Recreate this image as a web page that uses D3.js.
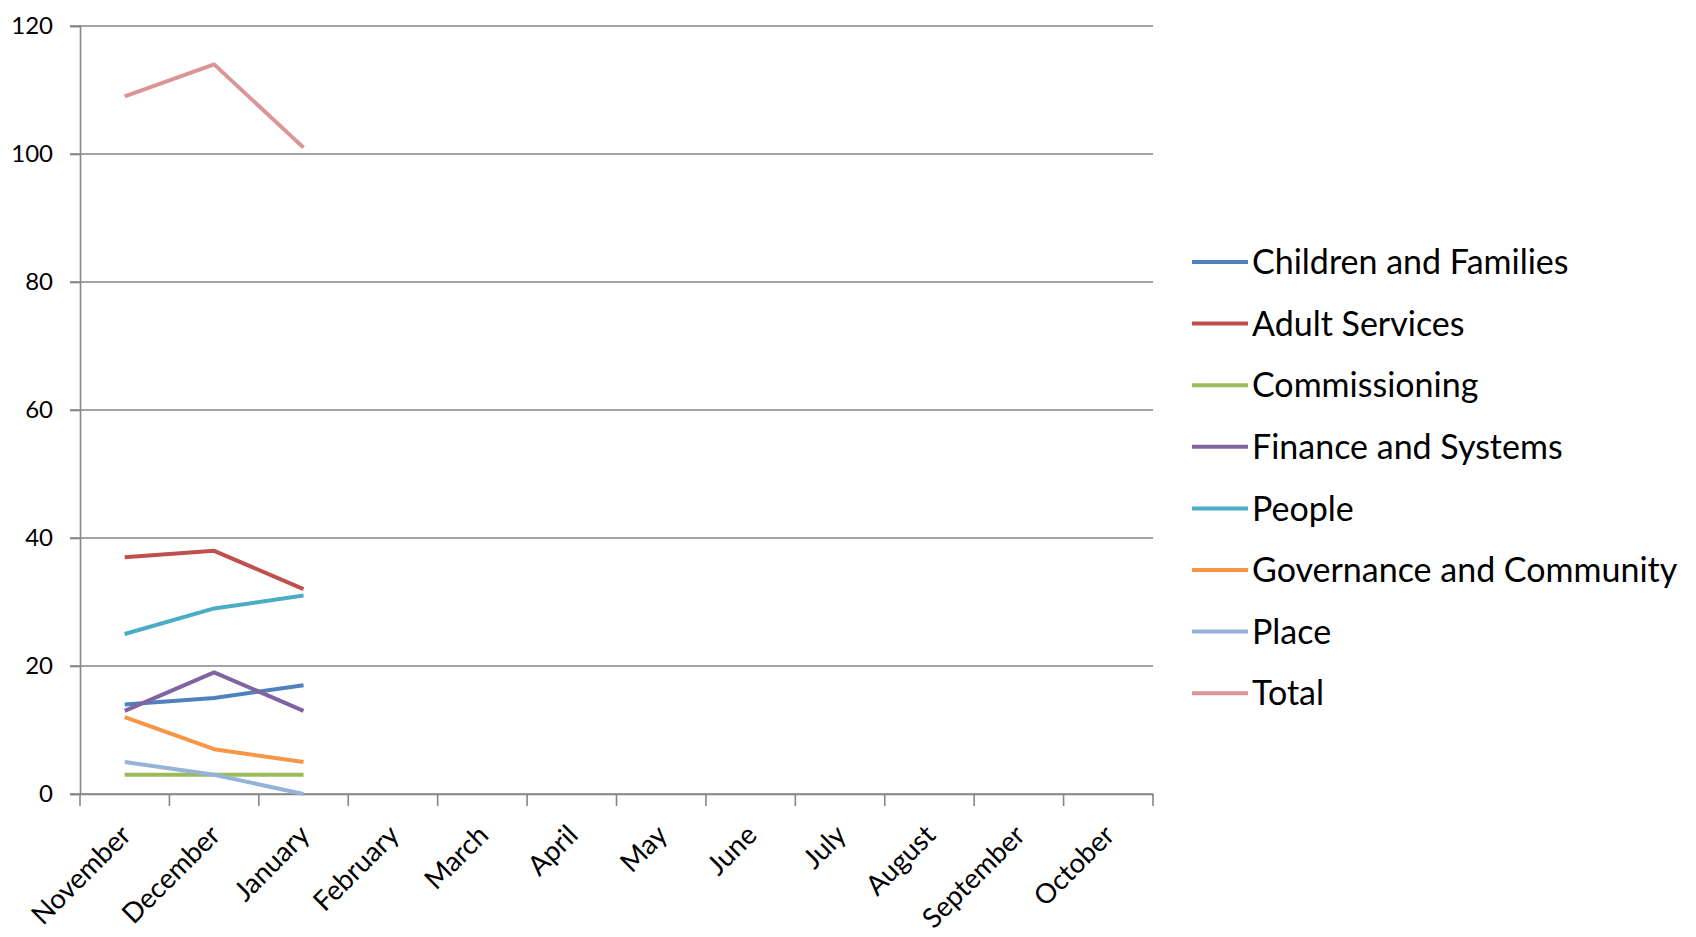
<!DOCTYPE html>
<html>
<head>
<meta charset="utf-8">
<script src="https://cdn.jsdelivr.net/npm/d3@7"></script>
<style>
  html, body { margin: 0; padding: 0; background: #fff; }
  svg { display: block; }
  text { font-family: Lato, "Open Sans", sans-serif; fill: #000; }
</style>
</head>
<body>
<svg id="chart" width="1696" height="937"></svg>
<script>
// Monthly counts by directorate (only Nov–Jan reported so far)
const months = ["November", "December", "January", "February", "March", "April",
                "May", "June", "July", "August", "September", "October"];
const yTicks = [0, 20, 40, 60, 80, 100, 120];

const seriesNames = ["Children and Families", "Adult Services", "Commissioning",
                     "Finance and Systems", "People", "Governance and Community",
                     "Place", "Total"];
const seriesColors = ["#4F81BD", "#C0504D", "#9BBB59", "#8064A2", "#4BACC6",
                      "#F79646", "#95B3D7", "#D99694"];

const childrenAndFamilies    = [14, 15, 17];
const adultServices          = [37, 38, 32];
const commissioning          = [3, 3, 3];
const financeAndSystems      = [13, 19, 13];
const people                 = [25, 29, 31];
const governanceAndCommunity = [12, 7, 5];
const place                  = [5, 3, 0];
const total                  = [109, 114, 101];

const seriesValues = [childrenAndFamilies, adultServices, commissioning,
                      financeAndSystems, people, governanceAndCommunity, place, total];

const svg = d3.select("#chart");
const plot = { left: 80, right: 1153, top: 26, bottom: 794 };

const x = d3.scaleBand().domain(months).range([plot.left, plot.right]).padding(0);
const y = d3.scaleLinear().domain([0, 120]).range([plot.bottom, plot.top]);

const gridColor = "#868686";

// Horizontal gridlines
svg.append("g")
  .selectAll("line")
  .data(yTicks)
  .join("line")
  .attr("x1", plot.left - 10)
  .attr("x2", plot.right)
  .attr("y1", d => y(d))
  .attr("y2", d => y(d))
  .attr("stroke", gridColor)
  .attr("stroke-width", 1.6);

// Y axis
const yAxis = svg.append("g")
  .attr("transform", `translate(${plot.left},0)`)
  .call(d3.axisLeft(y).tickValues(yTicks).tickSize(10).tickPadding(17));
yAxis.select(".domain").attr("stroke", gridColor).attr("stroke-width", 1.6);
yAxis.selectAll(".tick line").attr("stroke", gridColor).attr("stroke-width", 1.6);
yAxis.selectAll(".tick text")
  .style("font-family", "Lato, 'Open Sans', sans-serif")
  .style("font-size", "24px")
  .attr("fill", "#222");

// X axis: tick marks sit on category boundaries, labels centred in each band
const boundaries = months.map(m => x(m)).concat([plot.right]);
svg.append("g")
  .selectAll("line")
  .data(boundaries)
  .join("line")
  .attr("x1", d => d).attr("x2", d => d)
  .attr("y1", plot.bottom).attr("y2", plot.bottom + 12)
  .attr("stroke", gridColor)
  .attr("stroke-width", 1.6);

const xAxis = svg.append("g")
  .attr("transform", `translate(0,${plot.bottom})`)
  .call(d3.axisBottom(x).tickSize(0).tickSizeOuter(0));
xAxis.select(".domain").attr("stroke", gridColor).attr("stroke-width", 1.6);
xAxis.selectAll(".tick text")
  .style("font-family", "Lato, 'Open Sans', sans-serif")
  .style("font-size", "27.5px")
  .attr("fill", "#222")
  .attr("text-anchor", "end")
  .attr("x", 0).attr("y", 0).attr("dy", "0.35em")
  .attr("transform", "translate(1,36) rotate(-45)");

// Series lines
const line = d3.line()
  .x((d, i) => x(months[i]) + x.bandwidth() / 2)
  .y(d => y(d));

svg.append("g")
  .selectAll("path")
  .data(seriesValues)
  .join("path")
  .attr("d", d => line(d))
  .attr("fill", "none")
  .attr("stroke", (d, i) => seriesColors[i])
  .attr("stroke-width", 4)
  .attr("stroke-linejoin", "round");

// Legend
const legend = svg.append("g").attr("transform", "translate(1192,262)");
const rows = legend.selectAll("g")
  .data(seriesNames)
  .join("g")
  .attr("transform", (d, i) => `translate(0,${i * 61.6})`);
rows.append("line")
  .attr("x1", 0).attr("x2", 56)
  .attr("y1", 0).attr("y2", 0)
  .attr("stroke", (d, i) => seriesColors[i])
  .attr("stroke-width", 4);
rows.append("text")
  .attr("x", 60)
  .attr("dy", "0.36em")
  .style("font-size", "34px")
  .attr("fill", "#222")
  .text(d => d);
</script>
</body>
</html>
